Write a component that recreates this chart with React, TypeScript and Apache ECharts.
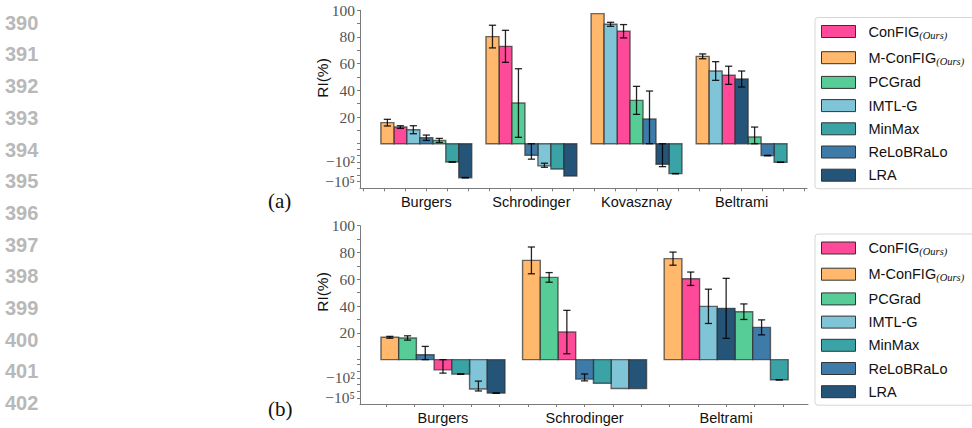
import { useEffect, useRef } from "react";
import * as echarts from "echarts";

// ---------- data ----------
const methods = ["ConFIG", "M-ConFIG", "PCGrad", "IMTL-G", "MinMax", "ReLoBRaLo", "LRA"];
const methodColors = ["#FF4A9A", "#FFB86C", "#56CC96", "#80C4D8", "#3AA3A6", "#3E7BA8", "#245478"];

// (a)
const categoriesA = ["Burgers", "Schrodinger", "Kovasznay", "Beltrami"];
const configA = [12.5, 73, 84.3, 51.3];
const configStdA = [1, 12, 5, 6.8];
const mconfigA = [15.8, 80.3, 97.5, 65.5];
const mconfigStdA = [2.5, 8.5, 0, 1.8];
const pcgradA = [2.5, 30.5, 32.5, 5];
const pcgradStdA = [1.5, 25.7, 10.5, 7.5];
const imtlA = [10.5, -400, 89.5, 54.5];
const imtlStdA = [3, 245, 1.5, 7];
const minmaxA = [-100, -1200, -6000, -112];
const minmaxStdA = [8, 0, 300, 5];
const relobraloA = [4.5, -9.6, 18.5, -10.8];
const relobraloStdA = [2, 28, 21, 1];
const lraA = [-24500, -13600, -221, 48.5];
const lraStdA = [1500, 0, 295, 6];

// (b)
const categoriesB = ["Burgers", "Schrodinger", "Beltrami"];
const configB = [-5.9, 20.6, 60.4];
const configStdB = [12.7, 16.2, 5];
const mconfigB = [16.7, 74.1, 75.4];
const mconfigStdB = [0.7, 10, 4.9];
const pcgradB = [16.2, 61.4, 35.8];
const pcgradStdB = [1.6, 3.6, 5.8];
const imtlB = [-4800, -3900, 39.8];
const imtlStdB = [4500, 0, 12.8];
const minmaxB = [-26, -630, -190];
const minmaxStdB = [2, 0, 5];
const relobraloB = [3.7, -150, 24.1];
const relobraloStdB = [6.2, 125, 5.6];
const lraB = [-20000, -4100, 38.3];
const lraStdB = [1000, 0, 22.4];

const yTickRaw = [-1e5, -1e2, 20, 40, 60, 80, 100];
const yTickText = ["\u221210\u2075", "\u221210\u00B2", "20", "40", "60", "80", "100"];
const yMinorRaw = [-1e4, -1e3, -10, -1, 0, 10, 30, 50, 70, 90];

const lineNumbers = ["390", "391", "392", "393", "394", "395", "396", "397", "398", "399", "400", "401", "402"];

// ---------- scale (linear above 0, log-like below 0) ----------
const C0 = 3.8;
const C1 = 4.93;
function tf(v: number): number {
  if (v >= 0) return v;
  const a = -v;
  if (a <= 1) return -C0 * a;
  return -(C0 + C1 * Math.log10(a));
}

function buildSeries(
  vals: number[][],
  stds: number[][],
  nCat: number,
  axisIdx: number,
  bw: number
) {
  const ranks: number[][] = vals.map(() => new Array(nCat).fill(0));
  for (let c = 0; c < nCat; c++) {
    const idx = vals.map((_, m) => m);
    idx.sort((p, q) => tf(vals[q][c]) - tf(vals[p][c]));
    idx.forEach((m, r) => (ranks[m][c] = r));
  }
  return vals.map((arr, m) => {
    const data = arr.map((v, c) => {
      const s = stds[m][c];
      let lo: number, hi: number;
      if (v >= 0) {
        lo = Math.max(v - s, 0);
        hi = v + s;
      } else {
        lo = v - s;
        hi = Math.min(v + s, 0);
      }
      return [c, tf(v), tf(lo), tf(hi), ranks[m][c], s];
    });
    const color = methodColors[m];
    return {
      type: "custom",
      name: methods[m],
      xAxisIndex: axisIdx,
      yAxisIndex: axisIdx,
      itemStyle: { color, borderColor: "#333", borderWidth: 1 },
      encode: { x: 0, y: 1 },
      data,
      renderItem: (params: any, api: any) => {
        const c = api.value(0);
        const t = api.value(1);
        const lo = api.value(2);
        const hi = api.value(3);
        const r = api.value(4);
        const s = api.value(5);
        const xc = c + (r - 3) * bw;
        const a = api.coord([xc - bw / 2, 0]);
        const b = api.coord([xc + bw / 2, t]);
        const children: any[] = [
          {
            type: "rect",
            shape: {
              x: a[0],
              y: Math.min(a[1], b[1]),
              width: b[0] - a[0],
              height: Math.abs(b[1] - a[1]),
            },
            style: { fill: color, stroke: "rgba(45,45,45,0.7)", lineWidth: 1.4 },
          },
        ];
        if (s > 0) {
          const p = api.coord([xc, hi]);
          const q = api.coord([xc, lo]);
          const cap = 3.6;
          const st = { stroke: "rgba(0,0,0,0.85)", lineWidth: 1.3 };
          children.push(
            { type: "line", shape: { x1: p[0], y1: p[1], x2: q[0], y2: q[1] }, style: st },
            { type: "line", shape: { x1: p[0] - cap, y1: p[1], x2: p[0] + cap, y2: p[1] }, style: st },
            { type: "line", shape: { x1: q[0] - cap, y1: q[1], x2: q[0] + cap, y2: q[1] }, style: st }
          );
        }
        return { type: "group", children };
      },
    };
  });
}

function xAxisFor(cats: string[], min: number, max: number, gridIndex: number) {
  const ticks: number[] = [];
  for (let k = Math.ceil(min / 0.2); k * 0.2 <= max; k++) ticks.push(+(k * 0.2).toFixed(2));
  return {
    type: "value",
    gridIndex,
    min,
    max,
    splitLine: { show: false },
    axisLine: { show: true, onZero: false, lineStyle: { color: "#7a7a7a", width: 1 } },
    axisTick: { show: true, length: 3, customValues: ticks, lineStyle: { color: "#7a7a7a" } },
    axisLabel: {
      customValues: cats.map((_, i) => i),
      formatter: (v: number) => cats[Math.round(v)] ?? "",
      fontFamily: "Liberation Sans, Arial, sans-serif",
      fontSize: 14.5,
      color: "#111",
      margin: 6,
    },
  };
}

function yAxisFor(gridIndex: number, min: number) {
  const labVals = yTickRaw.map(tf);
  const tickVals = labVals.concat(yMinorRaw.map(tf));
  return {
    type: "value",
    gridIndex,
    min,
    max: 100,
    splitLine: { show: false },
    axisLine: { show: true, onZero: false, lineStyle: { color: "#7a7a7a", width: 1 } },
    axisTick: { show: true, length: 3, customValues: tickVals, lineStyle: { color: "#7a7a7a" } },
    axisLabel: {
      customValues: labVals,
      formatter: (v: number) => {
        const i = labVals.findIndex((x) => Math.abs(x - v) < 1e-6);
        return i >= 0 ? yTickText[i] : "";
      },
      fontFamily: "Liberation Serif, DejaVu Serif, serif",
      fontSize: 15.5,
      color: "#555",
      margin: 5,
    },
  };
}

function legendFor(top: number, gap: number) {
  return {
    orient: "vertical",
    left: 815,
    top,
    data: methods,
    selectedMode: false,
    icon: "rect",
    itemWidth: 34,
    itemHeight: 12,
    itemGap: gap,
    padding: [5, 10, 6, 6],
    backgroundColor: "#fff",
    borderColor: "#d6d6d6",
    borderWidth: 1,
    borderRadius: 3,
    itemStyle: { borderColor: "#333", borderWidth: 1 },
    formatter: (name: string) => (name.includes("ConFIG") ? `${name}{sub|(Ours)}` : name),
    textStyle: {
      fontFamily: "Liberation Sans, Arial, sans-serif",
      fontSize: 14.5,
      color: "#111",
      lineHeight: 14,
      padding: [0, 0, 0, 8],
      rich: {
        sub: {
          fontFamily: "Liberation Serif, DejaVu Serif, serif",
          fontStyle: "italic",
          fontSize: 10.5,
          color: "#111",
          lineHeight: 14,
          padding: [7, 0, 0, 0],
        },
      },
    },
  };
}

export default function App() {
  const ref = useRef<HTMLDivElement>(null);
  useEffect(() => {
    if (!ref.current) return;
    const chart = echarts.init(ref.current, null, { renderer: "svg" });

    const valsA = [configA, mconfigA, pcgradA, imtlA, minmaxA, relobraloA, lraA];
    const stdsA = [configStdA, mconfigStdA, pcgradStdA, imtlStdA, minmaxStdA, relobraloStdA, lraStdA];
    const valsB = [configB, mconfigB, pcgradB, imtlB, minmaxB, relobraloB, lraB];
    const stdsB = [configStdB, mconfigStdB, pcgradStdB, imtlStdB, minmaxStdB, relobraloStdB, lraStdB];

    const graphics: any[] = lineNumbers.map((n, i) => ({
      type: "text",
      left: 5,
      top: 22.7 + 31.7 * i - 10,
      style: {
        text: n,
        fill: "#b8b8b8",
        font: "bold 20px 'Liberation Sans', Arial, sans-serif",
      },
    }));
    graphics.push(
      {
        type: "text",
        left: 268,
        top: 190,
        style: { text: "(a)", fill: "#111", font: "21px 'Liberation Serif', serif" },
      },
      {
        type: "text",
        left: 268,
        top: 398,
        style: { text: "(b)", fill: "#111", font: "21px 'Liberation Serif', serif" },
      },
      {
        type: "text",
        x: 322,
        y: 78,
        rotation: Math.PI / 2,
        style: {
          text: "RI(%)",
          fill: "#111",
          font: "15.5px 'Liberation Sans', Arial, sans-serif",
          align: "center",
          verticalAlign: "middle",
        },
      },
      {
        type: "text",
        x: 322,
        y: 292,
        rotation: Math.PI / 2,
        style: {
          text: "RI(%)",
          fill: "#111",
          font: "15.5px 'Liberation Sans', Arial, sans-serif",
          align: "center",
          verticalAlign: "middle",
        },
      }
    );

    chart.setOption({
      animation: false,
      backgroundColor: "#fff",
      grid: [
        { left: 360, top: 10.3, width: 447, height: 178 },
        { left: 360, top: 225.7, width: 448, height: 178.3 },
      ],
      xAxis: [xAxisFor(categoriesA, -0.631, 3.622, 0), xAxisFor(categoriesB, -0.586, 2.578, 1)],
      yAxis: [yAxisFor(0, -33.4), yAxisFor(1, -33.1)],
      legend: [legendFor(17.5, 8.2), legendFor(234, 8.2)],
      graphic: graphics,
      series: [
        ...buildSeries(valsA, stdsA, categoriesA.length, 0, 0.1235),
        ...buildSeries(valsB, stdsB, categoriesB.length, 1, 0.1251),
      ],
    });
    return () => chart.dispose();
  }, []);
  return (
    <div
      ref={ref}
      style={{ position: "absolute", left: 0, top: 0, width: 972, height: 428 }}
    />
  );
}
